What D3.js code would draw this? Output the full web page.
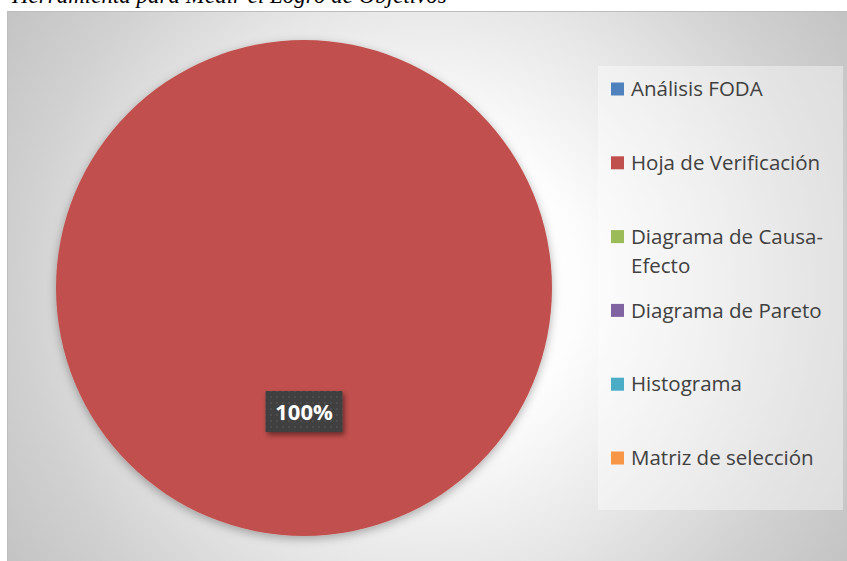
<!DOCTYPE html>
<html>
<head>
<meta charset="utf-8">
<script src="https://cdn.jsdelivr.net/npm/d3@7/dist/d3.min.js"></script>
<style>
  html, body { margin: 0; padding: 0; background: #ffffff; }
  svg { display: block; }
</style>
</head>
<body>
<svg id="chart" width="847" height="561"></svg>
<script>
// Herramientas usadas para medir el logro de objetivos (porcentaje)
const categories = [
  "Análisis FODA",
  "Hoja de Verificación",
  "Diagrama de Causa-Efecto",
  "Diagrama de Pareto",
  "Histograma",
  "Matriz de selección"
];
const values = [0, 100, 0, 0, 0, 0];
const colors = ["#4F81BD", "#C0504D", "#9BBB59", "#8064A2", "#4BACC6", "#F79646"];
const titleText = "Herramienta para Medir el Logro de Objetivos";

const W = 847, H = 561;
const svg = d3.select("#chart");
const defs = svg.append("defs");

// Background gradient of the chart area
const grad = defs.append("radialGradient")
  .attr("id", "bg").attr("gradientUnits", "userSpaceOnUse")
  .attr("cx", 427).attr("cy", 286).attr("r", 505);
[[0, "#ffffff"], [0.3, "#fdfdfd"], [0.58, "#e6e6e6"], [0.8, "#d1d1d1"], [1, "#c3c3c3"]]
  .forEach(([o, c]) => grad.append("stop").attr("offset", o).attr("stop-color", c));

// Soft shadow under the pie
const sh = defs.append("filter").attr("id", "pieShadow")
  .attr("x", "-20%").attr("y", "-20%").attr("width", "140%").attr("height", "140%");
sh.append("feDropShadow").attr("dx", 0).attr("dy", 3).attr("stdDeviation", 5)
  .attr("flood-color", "#000").attr("flood-opacity", 0.3);

const lsh = defs.append("filter").attr("id", "lblShadow")
  .attr("x", "-30%").attr("y", "-30%").attr("width", "160%").attr("height", "160%");
lsh.append("feDropShadow").attr("dx", 2).attr("dy", 3).attr("stdDeviation", 2.5)
  .attr("flood-color", "#000").attr("flood-opacity", 0.45);

// Dotted texture for the data label box
const pat = defs.append("pattern").attr("id", "dots")
  .attr("patternUnits", "userSpaceOnUse").attr("width", 6).attr("height", 6);
pat.append("rect").attr("width", 6).attr("height", 6).attr("fill", "#404040");
pat.append("rect").attr("x", 2).attr("y", 2).attr("width", 2).attr("height", 2).attr("fill", "#4d4d4d");

// Caption above the chart (runs off the top edge)
svg.append("text")
  .attr("x", 12).attr("y", 3)
  .attr("font-family", "'Liberation Serif', 'Times New Roman', serif")
  .attr("font-style", "italic")
  .attr("font-size", 23)
  .attr("fill", "#000")
  .text(titleText);

// Chart area
svg.append("rect")
  .attr("x", 7.5).attr("y", 11.5).attr("width", W).attr("height", H)
  .attr("fill", "url(#bg)")
  .attr("stroke", "#bdbdbd").attr("stroke-width", 1);

// Pie
const cx = 304, cy = 288, R = 248;
const pie = d3.pie().sort(null).value(d => d.value);
const arcs = pie(categories.map((c, i) => ({ name: c, value: values[i], color: colors[i] })));
const arc = d3.arc().innerRadius(0).outerRadius(R);
const labelArc = d3.arc().innerRadius(R / 2).outerRadius(R / 2);

const g = svg.append("g").attr("transform", `translate(${cx},${cy})`);
g.selectAll("path.slice")
  .data(arcs.filter(d => d.value > 0))
  .join("path")
  .attr("class", "slice")
  .attr("d", arc)
  .attr("fill", d => d.data.color)
  .attr("filter", "url(#pieShadow)");

// Data labels
const total = d3.sum(values);
const fmt = d3.format(".0%");
const lbl = g.selectAll("g.lbl")
  .data(arcs.filter(d => d.value > 0))
  .join("g")
  .attr("class", "lbl")
  .attr("transform", d => {
    const [x, y] = labelArc.centroid(d);
    return `translate(${x},${y})`;
  });
lbl.append("rect")
  .attr("x", -38.5).attr("y", -21).attr("width", 77).attr("height", 41)
  .attr("fill", "url(#dots)")
  .attr("filter", "url(#lblShadow)");
lbl.append("text")
  .attr("text-anchor", "middle")
  .attr("dy", "0.36em")
  .attr("font-family", "'Open Sans', 'Noto Sans', sans-serif")
  .attr("font-weight", "bold")
  .attr("font-size", 22)
  .attr("fill", "#ffffff")
  .text(d => fmt(d.data.value / total));

// Legend
const legX = 598, legY = 66, legW = 245, legH = 444;
svg.append("rect")
  .attr("x", legX).attr("y", legY).attr("width", legW).attr("height", legH)
  .attr("fill", "#ffffff").attr("fill-opacity", 0.4);

const ly = d3.scalePoint().domain(categories).range([89, 458]);
const textX = 631, maxTextW = legX + legW - textX - 4;
const items = svg.append("g").selectAll("g")
  .data(categories)
  .join("g")
  .attr("transform", d => `translate(0,${ly(d)})`);
items.append("rect")
  .attr("x", 611).attr("y", -6.5).attr("width", 13).attr("height", 13)
  .attr("fill", (d, i) => colors[i]);
items.append("text")
  .attr("x", textX)
  .attr("dy", "0.35em")
  .attr("font-family", "'Open Sans', 'Noto Sans', sans-serif")
  .attr("font-size", 20.5)
  .attr("fill", "#404040")
  .each(function (d) {
    const t = d3.select(this);
    t.text(d);
    if (this.getComputedTextLength() > maxTextW && d.includes("-")) {
      const k = d.indexOf("-") + 1;
      t.text(null);
      t.append("tspan").attr("x", textX).text(d.slice(0, k));
      t.append("tspan").attr("x", textX).attr("dy", 29).text(d.slice(k));
    }
  });
</script>
</body>
</html>
